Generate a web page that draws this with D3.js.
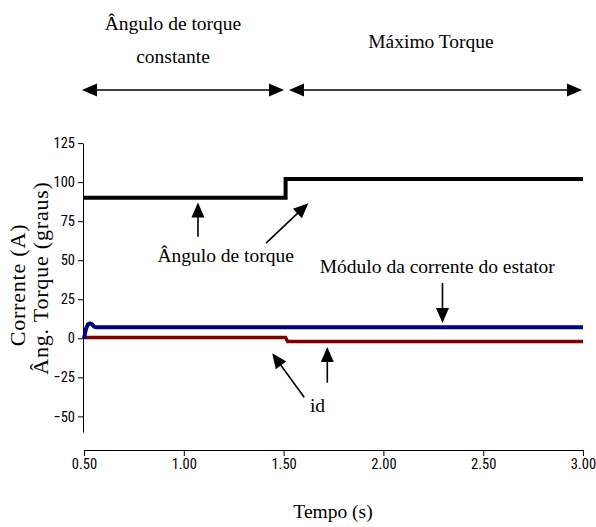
<!DOCTYPE html>
<html>
<head>
<meta charset="utf-8">
<script src="https://cdn.jsdelivr.net/npm/d3@7"></script>
<style>
  html, body { margin: 0; padding: 0; background: #fff; }
  svg { display: block; }
  .serif { font-family: 'Liberation Serif', serif; }
  .tick text { font-family: 'Roboto Condensed', Roboto, sans-serif; font-stretch: condensed; }
</style>
</head>
<body>
<svg id="chart" width="596" height="527"></svg>
<script>
// ---- Data ----
const timeTicks = [0.5, 1.0, 1.5, 2.0, 2.5, 3.0];
const valueTicks = [-50, -25, 0, 25, 50, 75, 100, 125];

// Torque angle (degrees)
const angleTime = [0.5, 1.51, 1.51, 3.0];
const angleValue = [90, 90, 102, 102];

// Stator current magnitude (A)
const currentTime = [0.5, 0.51, 0.52, 0.53, 0.54, 0.55, 0.56, 3.0];
const currentValue = [0, 6, 9, 9.5, 9, 7.5, 7, 7];

// id current (A)
const idTime = [0.5, 1.51, 1.52, 3.0];
const idValue = [0.5, 0.5, -2, -2];

const regionLabels = [["Ângulo de torque", "constante"], ["Máximo Torque"]];

// ---- Layout ----
const svg = d3.select("#chart");
const x = d3.scaleLinear().domain([0.5, 3.0]).range([84, 583]);
const y = d3.scaleLinear().domain([-60, 125]).range([432, 143.1]);

// Y axis
const yAxis = svg.append("g")
  .attr("transform", `translate(${x(0.5) - 1},0)`)
  .call(d3.axisLeft(y).tickValues(valueTicks).tickSize(5).tickSizeOuter(0).tickPadding(3).tickFormat(d3.format("d")));
yAxis.attr("font-family", null).attr("font-size", 14.5);
yAxis.selectAll("text").attr("fill", "#000");
yAxis.selectAll("line,path").attr("stroke", "#000").attr("stroke-width", 1);

// X axis
const xAxis = svg.append("g")
  .attr("transform", `translate(0,450)`)
  .call(d3.axisBottom(x).tickValues(timeTicks).tickSize(6).tickSizeOuter(0).tickPadding(3).tickFormat(d3.format(".2f")));
xAxis.attr("font-family", null).attr("font-size", 14.5);
xAxis.selectAll("text").attr("fill", "#000");
xAxis.selectAll("line,path").attr("stroke", "#000").attr("stroke-width", 1);

// Series
const line = d3.line().x(d => x(d[0])).y(d => y(d[1]));
function series(ts, vs, color, w) {
  svg.append("path")
    .datum(ts.map((t, i) => [t, vs[i]]))
    .attr("d", line)
    .attr("fill", "none")
    .attr("stroke", color)
    .attr("stroke-width", w)
    .attr("stroke-linejoin", "miter");
}
series(idTime, idValue, "#800000", 3.5);
series(currentTime, currentValue, "#000080", 4);
series(angleTime, angleValue, "#000000", 4);

// Arrow helper
function arrow(x1, y1, x2, y2, head1, head2) {
  const L = 15, W = 6.5;
  const dx = x2 - x1, dy = y2 - y1, len = Math.hypot(dx, dy);
  const ux = dx / len, uy = dy / len;
  let sx = x1, sy = y1, ex = x2, ey = y2;
  if (head1) { sx = x1 + ux * L * 0.8; sy = y1 + uy * L * 0.8; }
  if (head2) { ex = x2 - ux * L * 0.8; ey = y2 - uy * L * 0.8; }
  svg.append("line").attr("x1", sx).attr("y1", sy).attr("x2", ex).attr("y2", ey)
    .attr("stroke", "#000").attr("stroke-width", 1.6);
  const tri = (tx, ty, dirx, diry) => {
    const bx = tx - dirx * L, by = ty - diry * L;
    svg.append("polygon")
      .attr("points", [[tx, ty], [bx + (-diry) * W, by + dirx * W], [bx - (-diry) * W, by - dirx * W]].map(p => p.join(",")).join(" "))
      .attr("fill", "#000");
  };
  if (head2) tri(x2, y2, ux, uy);
  if (head1) tri(x1, y1, -ux, -uy);
}

function label(px, py, s, size) {
  return svg.append("text").attr("class", "serif").attr("x", px).attr("y", py)
    .attr("font-size", size || 19.5).attr("text-anchor", "middle").text(s);
}

// Region arrows (top)
arrow(82, 90, 284, 90, true, true);
arrow(289, 90, 582, 90, true, true);

// Region labels
label(173, 30, regionLabels[0][0]);
label(173, 63, regionLabels[0][1]);
label(431, 48, regionLabels[1][0]);

// In-plot annotations (positions in data coordinates)
function txt(t, v, s) { label(x(t), y(v), s); }
txt(1.21, 49, "Ângulo de torque");
arrow(x(1.071), y(65), x(1.071), y(87), false, true);
arrow(x(1.412), y(61), x(1.624), y(86.5), false, true);

txt(2.27, 42, "Módulo da corrente do estator");
arrow(x(2.296), y(35.5), x(2.296), y(9.8), false, true);

txt(1.67, -47.5, "id");
arrow(x(1.603), y(-37.8), x(1.443), y(-9.6), false, true);
arrow(x(1.719), y(-28.4), x(1.719), y(-5.5), false, true);

// Axis titles
label(333, 518, "Tempo (s)");

svg.append("text").attr("class", "serif").attr("transform", "translate(25,285) rotate(-90)")
  .attr("font-size", 22).attr("text-anchor", "middle").attr("letter-spacing", 0.8)
  .text("Corrente (A)");
svg.append("text").attr("class", "serif").attr("transform", "translate(48,278) rotate(-90)")
  .attr("font-size", 22).attr("text-anchor", "middle").attr("letter-spacing", 0.8)
  .text("Âng. Torque (graus)");
</script>
</body>
</html>
